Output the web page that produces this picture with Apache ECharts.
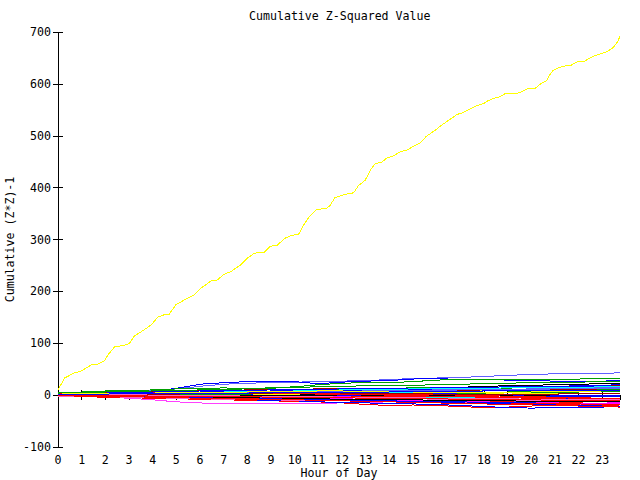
<!DOCTYPE html>
<html>
<head>
<meta charset="utf-8">
<script src="https://cdn.jsdelivr.net/npm/echarts@6/dist/echarts.min.js"></script>
<style>html,body{margin:0;padding:0;background:#fff}#c{width:640px;height:480px}#c svg path{shape-rendering:crispEdges}</style>
</head>
<body>
<div id="c"></div>
<script>
// ---- data ----
var titleText = 'Cumulative Z-Squared Value';
var xName = 'Hour of Day';
var yName = 'Cumulative (Z*Z)-1';

var yellowHours = [0,0.28,0.7,0.91,1.26,1.47,1.68,1.97,2.1,2.39,2.81,3.02,3.23,3.51,3.93,4.21,4.49,4.7,4.98,5.4,5.75,6.04,6.46,6.73,7.02,7.3,7.72,8.0,8.25,8.42,8.7,8.98,9.26,9.61,9.89,10.17,10.38,10.59,10.94,11.36,11.5,11.71,12.13,12.49,12.7,12.98,13.19,13.4,13.68,13.89,14.17,14.45,14.73,15.08,15.29,15.57,15.92,16.2,16.45,16.58,16.86,17.14,17.42,17.7,17.98,18.19,18.47,18.68,18.89,19.24,19.53,19.8,20.15,20.43,20.64,20.78,20.9,21.13,21.48,21.69,21.9,22.26,22.6,22.95,23.23,23.44,23.65,23.75];
var yellowValues = [10,33,43,45,54,60,60,66,77,93,96,100,114,122,135,150,155,156,174,185,193,206,220,222,233,238,251,264,272,275,275,287,289,303,308,310,328,342,358,360,366,381,387,390,404,414,433,446,449,457,461,469,472,481,486,499,510,520,528,532,541,545,552,558,562,568,573,575,581,581,583,590,591,601,606,617,625,631,635,636,642,644,653,658,663,669,681,692];

var hours = [0,1,2,3,4,5,6,7,8,9,10,11,12,13,14,15,16,17,18,19,20,21,22,23,23.75];

var lightBlue1 = [3,4,5,6,9,12,17,21,23,24,25,26,27,28,30,32,33,34,36,38,40,41,41,42,43];
var blue1      = [4,5,6,7,8,13,21,24,26,27,26,22,25,27,28,31,32,30,30,29,28,27,26,27,28];
var green1     = [5,6,8,9,10,12,12,14,12,14,16,20,23,24,24,26,29,30,31,30,30,30,31,32,33];
var magenta1   = [0,-2,-4,-6,-9,-13,-15,-17,-17,-17,-17,-16,-15,-14,-13,-12,-12,-13,-13,-12,-12,-11,-11,-10,-10];
var red1       = [-2,-3,-4,-5,-6,-7,-8,-9,-10,-11,-12,-13,-15,-18,-20,-19,-20,-22,-24,-23,-21,-20,-19,-18,-18];
var blue2      = [-1,-2,-3,-4,-5,-6,-7,-8,-9,-10,-11,-13,-14,-15,-16,-17,-18,-20,-22,-24,-25,-24,-24,-23,-22];
var red2       = [1,0,-1,-2,-3,-3,-4,-5,-6,-6,-7,-8,-9,-10,-11,-11,-12,-13,-14,-15,-15,-14,-15,-16,-16];
var green2     = [3,4,5,6,7,8,9,11,12,12,11,10,11,12,13,14,14,13,12,12,11,11,10,10,11];
var blue3      = [2,2,1,1,0,-1,-1,0,1,2,2,1,0,0,-1,-2,-3,-2,-1,-1,-2,-3,-3,-2,-2];
var magenta2   = [1,1,0,-1,-2,-2,-3,-4,-4,-5,-5,-6,-6,-5,-4,-5,-6,-7,-8,-8,-9,-9,-8,-8,-7];
var cyan1      = [2,3,3,4,4,5,5,4,3,3,2,3,4,5,6,5,4,3,4,5,6,5,4,4,3];
var darkRed1   = [4,5,6,6,7,8,9,9,10,10,11,12,12,13,12,11,12,13,15,16,17,16,17,18,19];
var yellow1    = [1,2,2,3,3,2,2,3,4,5,6,6,7,7,8,9,10,10,9,9,8,8,9,9,8];
var black1     = [0,1,1,2,3,4,4,5,6,7,7,8,8,9,10,12,14,15,17,18,19,20,21,22,23];
var lightBlue2 = [0,-1,-1,-2,-2,-3,-3,-4,-5,-5,-6,-7,-8,-8,-9,-10,-10,-11,-12,-12,-11,-12,-13,-13,-14];
var pink1      = [-1,-2,-3,-3,-4,-5,-5,-6,-7,-7,-6,-7,-8,-9,-9,-10,-9,-8,-9,-10,-10,-11,-11,-12,-12];
var red3       = [0,-1,-1,-2,-2,-3,-4,-4,-5,-6,-7,-7,-8,-9,-10,-11,-12,-13,-12,-13,-14,-15,-16,-17,-17];
var green3     = [2,3,3,4,4,5,6,7,6,5,5,6,6,7,8,7,6,5,5,6,7,8,8,9,9];
var blue4      = [0,0,-1,-1,-2,-2,-3,-3,-2,-2,-3,-4,-5,-5,-6,-6,-7,-7,-6,-6,-5,-6,-7,-7,-8];
var magenta3   = [2,1,1,0,0,1,1,0,-1,-1,-2,-2,-3,-3,-2,-3,-4,-4,-5,-5,-4,-4,-5,-6,-6];
var cyan2      = [1,1,2,2,3,3,4,4,5,5,4,4,3,3,2,2,1,1,2,2,1,0,0,-1,-1];
var darkRed2   = [3,3,4,4,5,5,6,7,7,8,9,9,8,8,7,7,8,9,10,10,11,10,11,12,12];
var yellow2    = [0,-1,-1,-2,-2,-2,-1,-1,0,1,1,2,2,3,3,4,4,3,3,2,3,3,4,4,4];
var black2     = [1,1,1,0,0,0,-1,-1,-1,0,0,1,1,0,-1,-1,-2,-2,-1,0,1,2,3,3,3];
var lightBlue3 = [2,2,3,3,4,4,5,5,6,6,7,7,8,9,9,10,11,11,10,11,12,13,14,14,14];
var pink2      = [-2,-3,-3,-4,-5,-6,-7,-8,-8,-9,-10,-10,-11,-12,-12,-13,-14,-14,-15,-16,-17,-18,-18,-19,-19];
var red4       = [-1,-2,-2,-3,-4,-5,-6,-7,-8,-8,-9,-10,-11,-12,-13,-14,-15,-15,-16,-17,-18,-19,-19,-20,-21];
var green4     = [1,1,2,2,3,2,1,1,2,3,4,4,5,5,4,4,3,3,4,5,5,6,6,7,7];
var blue5      = [3,3,4,5,5,6,6,7,7,8,8,9,9,10,11,11,12,13,13,14,15,15,16,17,17];
var magenta4   = [0,-1,-2,-2,-3,-4,-4,-5,-6,-7,-8,-8,-9,-10,-11,-11,-11,-12,-13,-14,-14,-15,-16,-16,-17];
var cyan3      = [0,0,0,-1,-1,-2,-2,-3,-3,-4,-4,-4,-5,-5,-6,-6,-5,-5,-4,-4,-5,-5,-6,-6,-6];
var red5       = [1,0,0,-1,-1,-1,-2,-2,-3,-3,-4,-4,-4,-3,-3,-2,-2,-3,-3,-4,-5,-5,-6,-6,-7];
var blue6      = [1,1,2,2,2,3,3,3,4,4,4,5,5,4,4,3,3,2,2,1,1,0,0,0,-1];
var red6       = [2,2,3,3,3,4,4,5,5,4,4,3,3,2,2,1,1,0,-1,-2,-3,-4,-5,-6,-6];
var blue7      = [-1,-1,-2,-3,-3,-4,-5,-5,-6,-7,-8,-9,-9,-10,-11,-12,-12,-13,-14,-15,-15,-16,-17,-18,-18];
var red7       = [0,-1,-2,-3,-4,-4,-5,-6,-7,-8,-9,-10,-10,-11,-12,-13,-14,-15,-16,-17,-17,-16,-17,-18,-19];
var red8       = [3,4,4,5,5,6,6,5,5,4,3,2,2,1,0,-1,-2,-3,-4,-5,-6,-7,-8,-9,-10];
var blue8      = [2,3,4,5,6,7,8,8,9,10,10,11,12,12,13,13,14,15,15,16,16,17,18,19,20];
var green5     = [4,5,6,7,8,9,10,11,13,14,15,16,17,18,19,19,20,21,22,23,24,24,25,26,26];
var magenta5   = [-1,-1,-2,-2,-3,-3,-4,-5,-5,-6,-6,-7,-7,-8,-8,-9,-10,-10,-11,-11,-12,-12,-13,-13,-14];
var cyan4      = [1,2,2,3,4,4,5,6,7,7,8,9,10,10,11,12,12,13,13,14,14,15,15,16,16];
var darkRed3   = [0,0,1,1,2,2,3,3,4,4,5,5,4,4,3,3,2,2,1,1,2,2,3,3,3];
var black3     = [-1,-2,-2,-3,-3,-4,-4,-5,-5,-6,-7,-7,-8,-8,-9,-9,-10,-10,-11,-11,-12,-12,-13,-13,-13];
var pink3      = [0,1,1,1,0,0,-1,-1,-2,-2,-3,-3,-4,-4,-5,-5,-6,-6,-7,-7,-8,-8,-9,-9,-9];
var blue9      = [0,-1,-1,-2,-3,-4,-5,-6,-7,-7,-8,-9,-10,-11,-12,-13,-14,-15,-16,-17,-18,-19,-20,-21,-22];
var red9       = [-1,-2,-3,-3,-4,-5,-6,-6,-7,-8,-9,-10,-11,-12,-13,-14,-15,-16,-17,-18,-19,-20,-21,-22,-23];
var lightBlue4 = [1,2,2,3,3,4,4,5,5,6,6,7,7,8,8,9,9,10,10,11,11,12,12,13,13];
var yellow3    = [2,3,3,4,4,5,5,6,6,7,7,8,8,7,7,6,6,5,5,6,6,7,7,8,8];
var red10      = [0,0,-1,-1,-2,-2,-2,-3,-3,-4,-4,-5,-5,-6,-6,-7,-7,-8,-8,-9,-9,-10,-10,-11,-11];
var blue10     = [2,2,2,3,3,3,4,4,4,5,5,5,6,6,6,7,7,7,8,8,8,9,9,9,9];

var clusterSeries = [
  [lightBlue1,'#6060ff'],[blue1,'#0000ff'],[green1,'#00a000'],[magenta1,'#ff40ff'],[red1,'#ff0000'],[blue2,'#0000ff'],
  [red2,'#ff0000'],[green2,'#00a000'],[blue3,'#0000ff'],[magenta2,'#ff00ff'],[cyan1,'#00ffff'],[darkRed1,'#a00000'],
  [yellow1,'#ffff00'],[black1,'#000000'],[lightBlue2,'#6060ff'],[pink1,'#ff60c0'],[red3,'#ff0000'],[green3,'#00a000'],
  [blue4,'#0000ff'],[magenta3,'#ff00ff'],[cyan2,'#00ffff'],[darkRed2,'#a00000'],[yellow2,'#ffff00'],[black2,'#000000'],
  [lightBlue3,'#6060ff'],[pink2,'#ff60c0'],[red4,'#ff0000'],[green4,'#00a000'],[blue5,'#0000ff'],[magenta4,'#ff00ff'],
  [cyan3,'#00ffff'],[red5,'#ff0000'],[blue6,'#0000ff'],[red6,'#ff0000'],[blue7,'#0000ff'],[red7,'#ff0000'],
  [red8,'#ff0000'],[blue8,'#0000ff'],[green5,'#00a000'],[magenta5,'#ff00ff'],[cyan4,'#00ffff'],[darkRed3,'#a00000'],
  [black3,'#000000'],[pink3,'#ff60c0'],[blue9,'#0000ff'],[red9,'#ff0000'],[lightBlue4,'#6060ff'],[yellow3,'#ffff00'],
  [red10,'#ff0000'],[blue10,'#0000ff']
];

// ---- chart ----
var FONT = 'DejaVu Sans Mono';
var FS = 11.6;
var series = [];
clusterSeries.forEach(function (s, i) {
  series.push({
    type: 'line', name: 's' + i, showSymbol: false, symbol: 'none', animation: false,
    lineStyle: { width: 1, color: s[1] },
    data: hours.map(function (h, k) { return [h, s[0][k]]; })
  });
});
series.push({
  type: 'line', name: 'big', showSymbol: false, symbol: 'none', animation: false,
  lineStyle: { width: 1, color: '#ffff00' },
  data: yellowHours.map(function (h, k) { return [h, yellowValues[k]]; })
});

var axisCommon = {
  axisLine: { show: true, lineStyle: { color: '#000', width: 1 } },
  axisTick: { show: true, inside: true, length: 5, lineStyle: { color: '#000', width: 1 } },
  splitLine: { show: false }
};

var chart = echarts.init(document.getElementById('c'), null, { renderer: 'svg' });
chart.setOption({
  animation: false,
  backgroundColor: '#ffffff',
  title: {
    text: titleText, left: 249, top: 10, padding: 0,
    textStyle: { fontFamily: FONT, fontSize: FS, fontWeight: 'normal', color: '#000' }
  },
  grid: { left: 58, right: 20, top: 32, bottom: 33, containLabel: false, outerBoundsMode: 'none' },
  xAxis: [
    Object.assign({
      type: 'value', min: 0, max: 23.75, interval: 1, position: 'bottom',
      name: xName, nameLocation: 'middle', nameGap: 26, nameMoveOverlap: false,
      nameTextStyle: { fontFamily: FONT, fontSize: FS, color: '#000', verticalAlign: 'middle' },
      axisLabel: { showMaxLabel: false, margin: 7, fontFamily: FONT, fontSize: FS, color: '#000' }
    }, axisCommon),
    Object.assign({
      type: 'value', min: 0, max: 23.75, interval: 1, position: 'top',
      axisLabel: { show: false }
    }, axisCommon)
  ],
  yAxis: [
    Object.assign({
      type: 'value', min: -100, max: 700, interval: 100, position: 'left',
      name: yName, nameLocation: 'middle', nameGap: 48, nameRotate: 90, nameMoveOverlap: false,
      nameTextStyle: { fontFamily: FONT, fontSize: FS, color: '#000', verticalAlign: 'middle' },
      axisLabel: { margin: 7, fontFamily: FONT, fontSize: FS, color: '#000' }
    }, axisCommon),
    Object.assign({
      type: 'value', min: -100, max: 700, interval: 100, position: 'right',
      axisLabel: { show: false }
    }, axisCommon)
  ],
  series: series
});
</script>
</body>
</html>
